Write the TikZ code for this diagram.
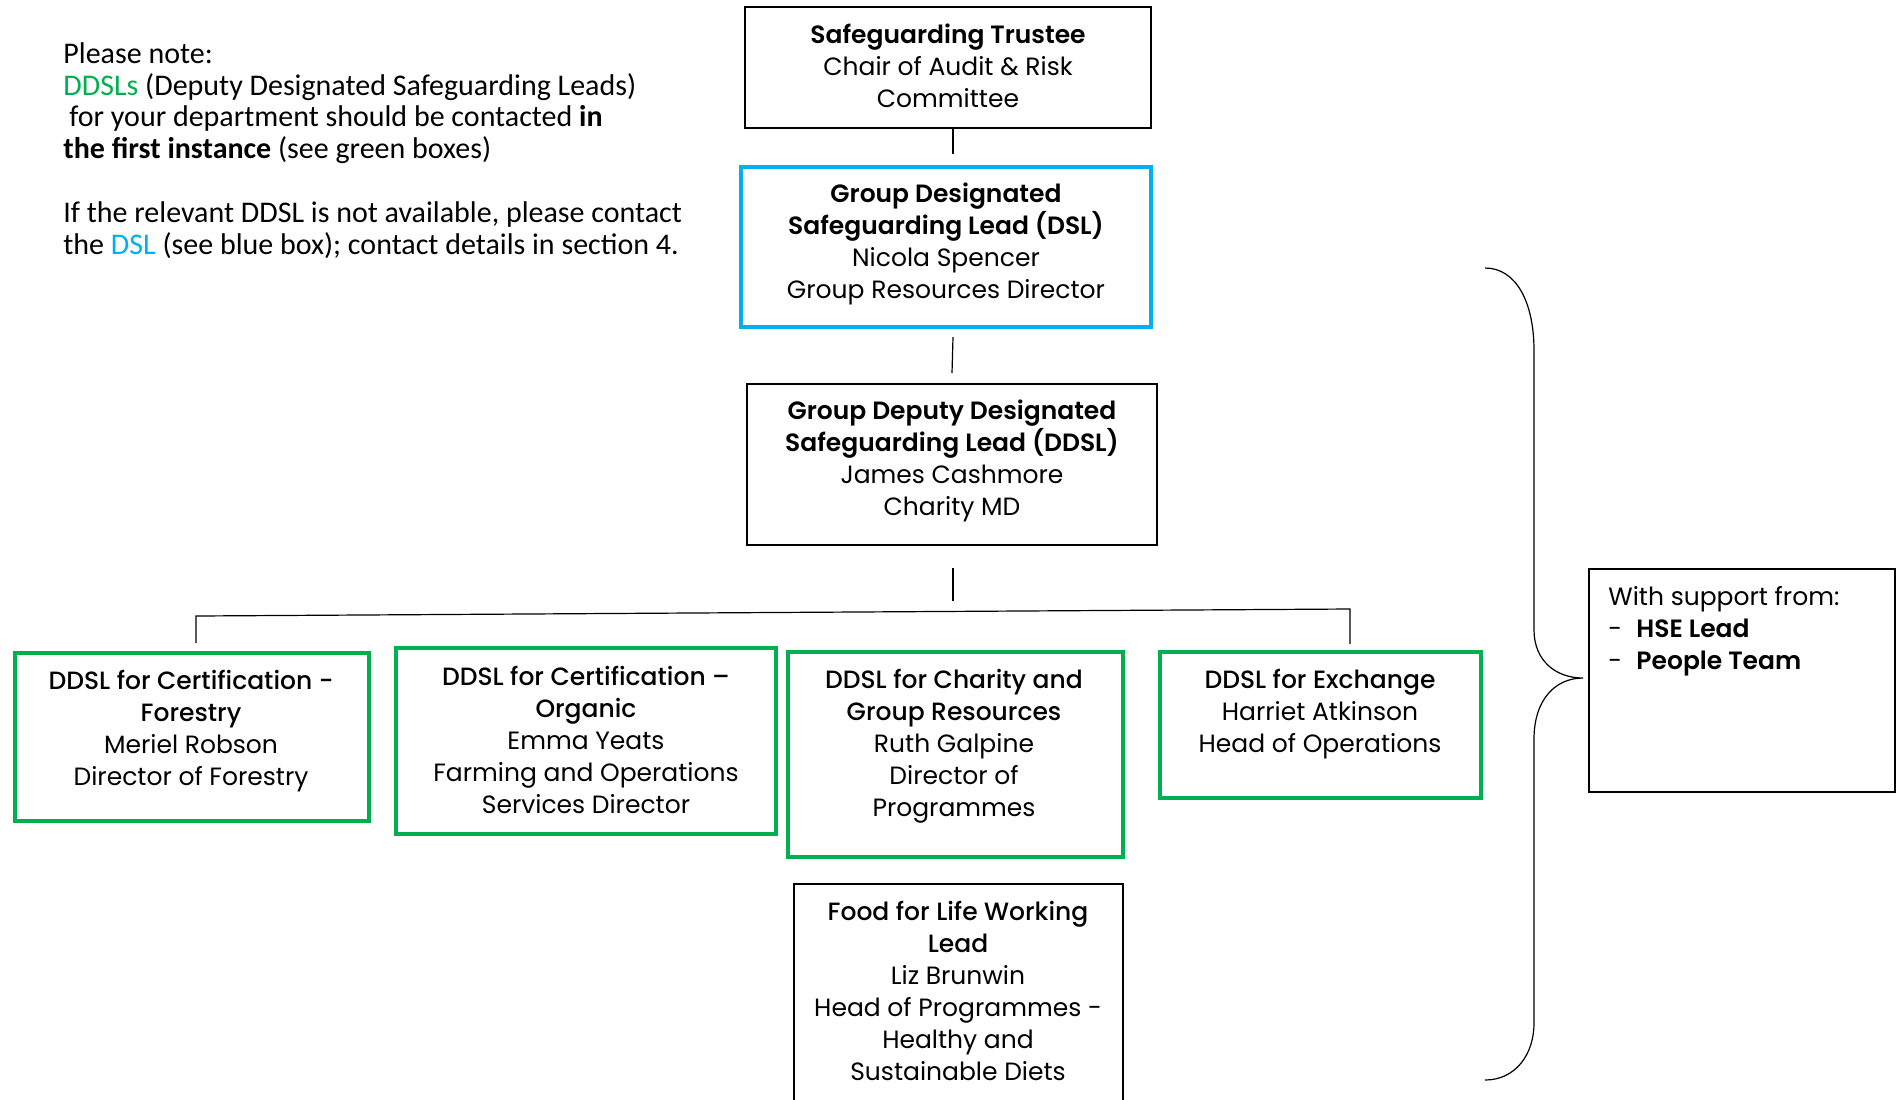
\documentclass[tikz,border=0pt]{standalone}
\usepackage{fontspec}
\setmainfont{Poppins}[BoldFont={Poppins SemiBold}]
\newfontfamily\medfont{Poppins Medium}
\newfontfamily\notefont{Carlito}
\newcommand{\mtitle}[1]{{\medfont #1}}
\definecolor{ddslgreen}{HTML}{00B050}
\definecolor{dslblue}{HTML}{00B0F0}
\begin{document}
\begin{tikzpicture}[x=0.5pt,y=-0.5pt,
  plainbox/.style={draw=black, line width=0.6pt, inner sep=0pt},
  greenbox/.style={draw=ddslgreen, line width=1.75pt, inner sep=0pt},
  bluebox/.style={draw=dslblue, line width=1.75pt, inner sep=0pt},
  foodbox/.style={draw=black, line width=1.2pt, inner sep=0pt},
  boxtext/.style={align=center, font=\fontsize{12.5}{16}\selectfont, inner sep=0pt},
  notetext/.style={align=left, font=\notefont\fontsize{15}{15.9}\selectfont, inner sep=0pt},
  link/.style={draw=black, line width=0.6pt}]
\clip (0,0) rectangle (1899,1099);
\fill[white] (0,0) rectangle (1899,1099);

% boxes
\node[plainbox, minimum width=203pt, minimum height=60.5pt] (trustee) at (948,67.5) {};
\node[bluebox, minimum width=205pt, minimum height=80pt] (dsl) at (946,247) {};
\node[plainbox, minimum width=205pt, minimum height=80.5pt] (gddsl) at (952,464.5) {};
\node[greenbox, minimum width=177pt, minimum height=84pt] (forestry) at (192,737) {};
\node[greenbox, minimum width=190pt, minimum height=93pt] (organic) at (586,741) {};
\node[greenbox, minimum width=167.5pt, minimum height=102.5pt] (charity) at (955.5,754.5) {};
\node[greenbox, minimum width=160.5pt, minimum height=73pt] (exchange) at (1320.5,725) {};
\node[foodbox, minimum width=164.5pt, minimum height=116pt] (food) at (958.5,1000) {};
\node[plainbox, minimum width=153pt, minimum height=111.5pt] (support) at (1742,680.5) {};

% texts
\node[boxtext] (trustee-t) at (948,65.5) {\textbf{Safeguarding Trustee}\\Chair of Audit \& Risk\\Committee};
\node[boxtext] (dsl-t) at (946,244) {\textbf{Group Designated}\\\textbf{Safeguarding Lead (DSL)}\\Nicola Spencer\\Group Resources Director};
\node[boxtext] (gddsl-t) at (952,461) {\textbf{Group Deputy Designated}\\\textbf{Safeguarding Lead (DDSL)}\\James Cashmore\\Charity MD};
\node[boxtext] (forestry-t) at (191,731) {\mtitle{DDSL for Certification -}\\\mtitle{Forestry}\\Meriel Robson\\Director of Forestry};
\node[boxtext] (organic-t) at (586,739.5) {\mtitle{DDSL for Certification –}\\\mtitle{Organic}\\Emma Yeats\\Farming and Operations\\Services Director};
\node[boxtext] (charity-t) at (954,746.5) {\mtitle{DDSL for Charity and}\\\mtitle{Group Resources}\\Ruth Galpine\\Director of\\Programmes};
\node[boxtext] (exchange-t) at (1320,714) {\mtitle{DDSL for Exchange}\\Harriet Atkinson\\Head of Operations};
\node[boxtext] (food-t) at (958,991) {\mtitle{Food for Life Working}\\\mtitle{Lead}\\Liz Brunwin\\Head of Programmes -\\Healthy and\\Sustainable Diets};
\node[boxtext, align=left, anchor=west] (support-t) at (1608,631.5) {With support from:\\\makebox[14pt][l]{-}\textbf{HSE Lead}\\\makebox[14pt][l]{-}\textbf{People Team}};

\node[notetext, anchor=north west] (note) at (63,42) {Please note:\\
\textcolor{ddslgreen}{DDSLs} (Deputy Designated Safeguarding Leads)\\
\hspace*{3pt}for your department should be contacted \textbf{in}\\
\textbf{the first instance} (see green boxes)\\[15.9pt]
If the relevant DDSL is not available, please contact\\
the \textcolor{dslblue}{DSL} (see blue box); contact details in section 4.};

% connectors
\coordinate (c1a) at (953,128);
\coordinate (c1b) at (953,154);
\coordinate (c2a) at (953,337);
\coordinate (c2b) at (952,373);
\coordinate (c3a) at (953,568);
\coordinate (c3b) at (953,601);
\coordinate (hl) at (196,616);
\coordinate (hr) at (1350,609);
\coordinate (dl) at (196,643);
\coordinate (dr) at (1350,644);
\draw[link] (c1a) -- (c1b);
\draw[link] (c2a) -- (c2b);
\draw[link] (c3a) -- (c3b);
\draw[link] (dl) -- (hl) -- (hr) -- (dr);

% brace
\coordinate (btop) at (1485,268);
\coordinate (btip) at (1583,678);
\coordinate (bbot) at (1485,1080);
\draw[link] (btop) .. controls (1515,268) and (1534,300) .. (1534,351)
  -- (1534,630) .. controls (1534,660) and (1555,678) .. (btip)
  .. controls (1555,678) and (1534,700) .. (1534,739)
  -- (1534,1023) .. controls (1534,1055) and (1515,1080) .. (bbot);
\end{tikzpicture}
\end{document}
